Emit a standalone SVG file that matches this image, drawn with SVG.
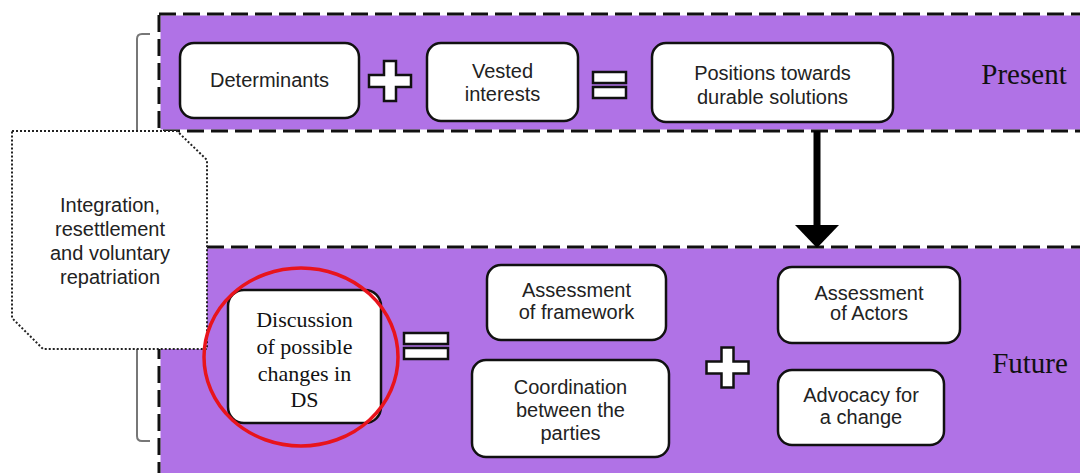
<svg xmlns="http://www.w3.org/2000/svg" width="1080" height="473" viewBox="0 0 1080 473">
<defs>
<style>
.band{fill:#b072e6;stroke:#fff;stroke-width:3}
.dash{fill:none;stroke:#111;stroke-width:3;stroke-dasharray:17 7}
.box{fill:#fff;stroke:#111;stroke-width:2.5}
.op{fill:#fff;stroke:#111;stroke-width:2.5}
.t{font-family:"Liberation Sans",Arial,sans-serif;font-size:20px;fill:#222;text-anchor:middle}
.s{font-family:"Liberation Serif","Times New Roman",serif;fill:#111;text-anchor:middle}
.brk{fill:none;stroke:#777;stroke-width:2}
</style>
<path id="plus" d="M-6,-20 h12 v14 h15 v12 h-15 v14 h-12 v-14 h-15 v-12 h15 z"/>
</defs>
<rect width="1080" height="473" fill="#fff"/>
<g id="bands">
<rect class="band" x="159" y="14" width="960" height="117"/>
<rect class="dash" x="159" y="14" width="960" height="117"/>
<rect class="band" x="159" y="247" width="960" height="260"/>
<rect class="dash" x="159" y="247" width="960" height="260"/>
</g>
<g id="bracket">
<path class="brk" d="M150,34 H142 Q137,34 137,39 V130"/>
<path class="brk" d="M137,349 V436 Q137,441 142,441 H150"/>
</g>
<g id="connectors">
<line x1="817" y1="131" x2="817" y2="227" stroke="#000" stroke-width="7"/>
<polygon points="795,225 839,225 817,248" fill="#000"/>
</g>
<g id="scope">
<path d="M12,131 L177,131 L207,160 L207,349 L43,349 L12,318 Z" fill="#fff" stroke="#222" stroke-width="2" stroke-dasharray="2 2"/>
<text class="t" x="110" y="212">Integration,</text>
<text class="t" x="110" y="236">resettlement</text>
<text class="t" x="110" y="260">and voluntary</text>
<text class="t" x="110" y="284">repatriation</text>
</g>
<g id="determinants">
<rect class="box" x="180" y="43" width="179" height="75" rx="14"/>
<text class="t" x="269.5" y="87">Determinants</text>
</g>
<g id="op-plus-top"><use href="#plus" class="op" transform="translate(390,81)"/></g>
<g id="vested">
<rect class="box" x="427" y="43" width="151" height="78" rx="14"/>
<text class="t" x="502.5" y="78">Vested</text>
<text class="t" x="502.5" y="101">interests</text>
</g>
<g id="op-eq-top">
<rect class="op" x="593" y="72" width="33" height="11"/>
<rect class="op" x="593" y="87" width="33" height="11"/>
</g>
<g id="positions">
<rect class="box" x="652" y="43" width="241" height="79" rx="14"/>
<text class="t" x="772.5" y="80">Positions towards</text>
<text class="t" x="772.5" y="104">durable solutions</text>
</g>
<g id="present"><text class="s" x="1024" y="84" font-size="29">Present</text></g>
<g id="discussion">
<rect class="box" x="228" y="290" width="153" height="133" rx="16"/>
<text class="s" x="304.5" y="327" font-size="22">Discussion</text>
<text class="s" x="304.5" y="354" font-size="22">of possible</text>
<text class="s" x="304.5" y="381" font-size="22">changes in</text>
<text class="s" x="304.5" y="407" font-size="22">DS</text>
<ellipse cx="301" cy="357" rx="97" ry="89" fill="none" stroke="#e8141c" stroke-width="3.5"/>
</g>
<g id="op-eq-bottom">
<rect class="op" x="404" y="333" width="44" height="11"/>
<rect class="op" x="404" y="348" width="44" height="11"/>
</g>
<g id="framework">
<rect class="box" x="487" y="265" width="179" height="75" rx="14"/>
<text class="t" x="576.5" y="297">Assessment</text>
<text class="t" x="576.5" y="319">of framework</text>
</g>
<g id="coordination">
<rect class="box" x="472" y="360" width="197" height="97" rx="14"/>
<text class="t" x="570.5" y="394">Coordination</text>
<text class="t" x="570.5" y="417">between the</text>
<text class="t" x="570.5" y="440">parties</text>
</g>
<g id="op-plus-bottom"><use href="#plus" class="op" transform="translate(727.5,367.5)"/></g>
<g id="actors">
<rect class="box" x="778" y="267" width="182" height="76" rx="14"/>
<text class="t" x="869" y="300">Assessment</text>
<text class="t" x="869" y="320">of Actors</text>
</g>
<g id="advocacy">
<rect class="box" x="778" y="370" width="166" height="75" rx="14"/>
<text class="t" x="861" y="402">Advocacy for</text>
<text class="t" x="861" y="424">a change</text>
</g>
<g id="future"><text class="s" x="1030" y="373" font-size="29">Future</text></g>
</svg>
